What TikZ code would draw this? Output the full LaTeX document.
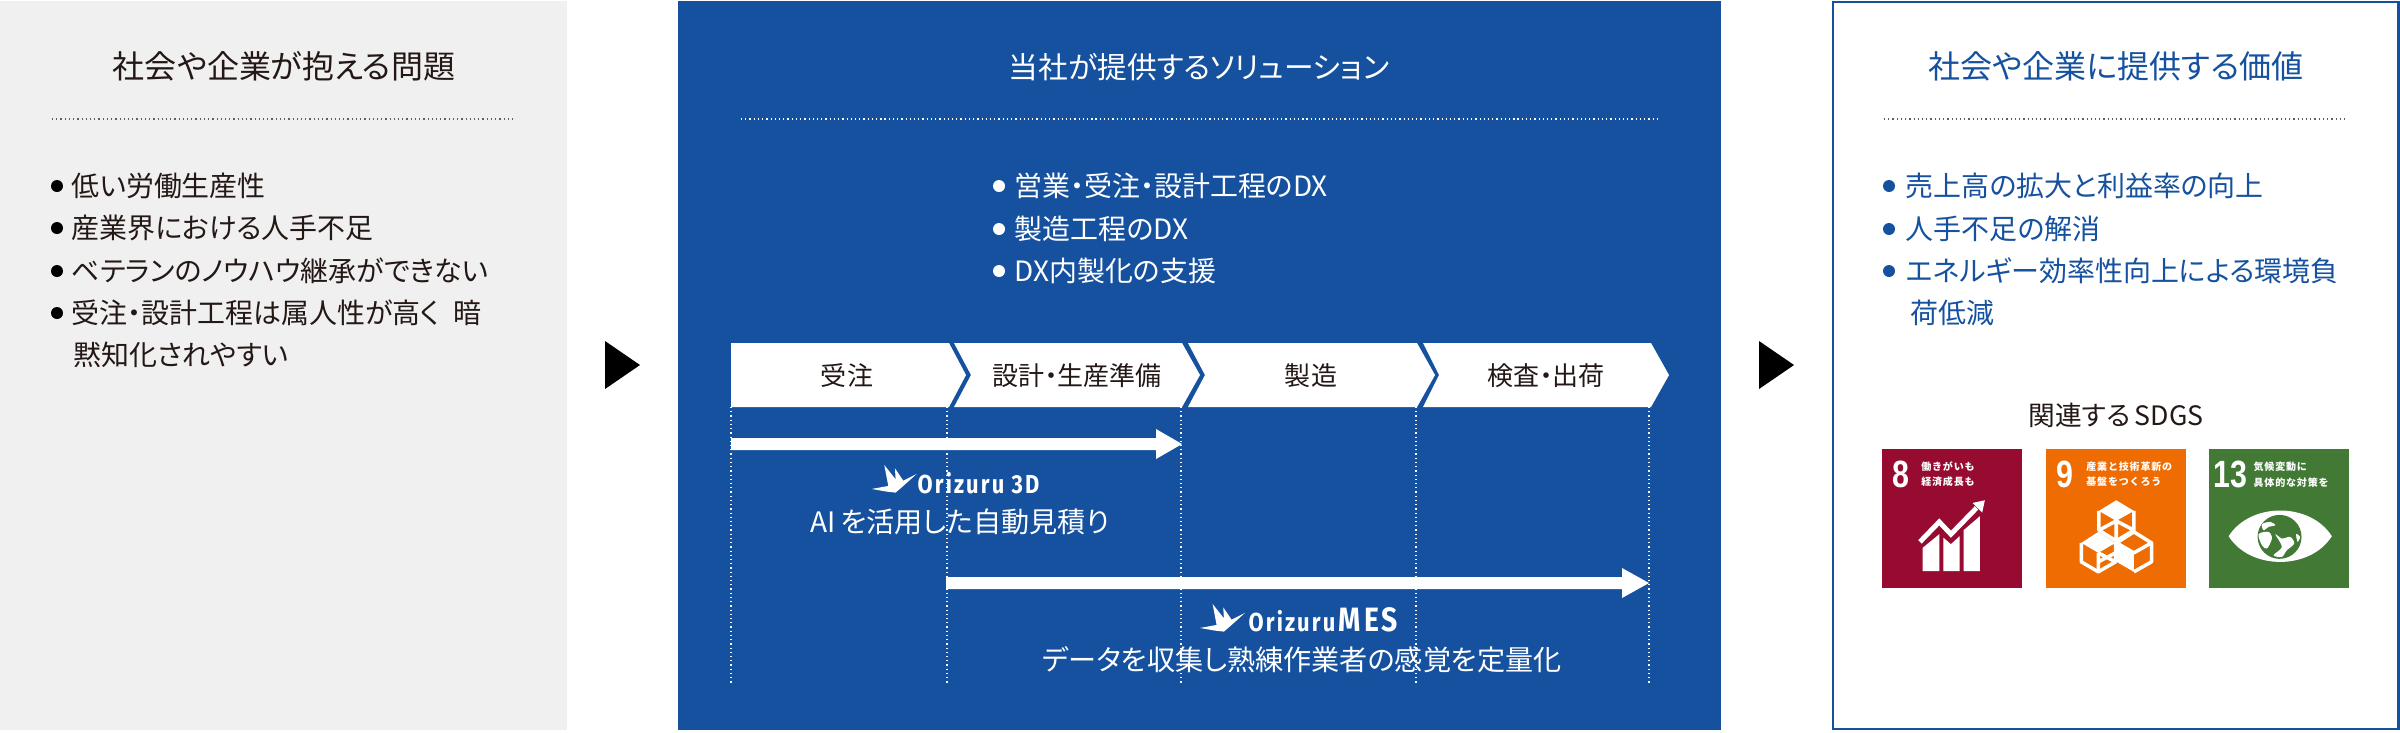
\documentclass[tikz,border=0pt]{standalone}
\usepackage{fontspec}
\setmainfont[RawFeature=+palt]{Noto Sans CJK JP}
\newfontfamily\sdgfont[LetterSpace=8]{Noto Sans CJK JP}
\newfontfamily\numfont{Liberation Sans}
\newfontfamily\logofont[LetterSpace=10]{Fira Sans}
\definecolor{panelgray}{HTML}{F0F0F0}
\definecolor{dxblue}{HTML}{15519F}
\definecolor{inkdark}{HTML}{231815}
\definecolor{sdgred}{HTML}{970B31}
\definecolor{sdgorange}{HTML}{EE6C02}
\definecolor{sdggreen}{HTML}{427935}
\tikzset{
	titletext/.style={inner sep=0pt,text height=8pt,text depth=1.1pt,font=\fontsize{9.1}{11}\selectfont},
	listtext/.style={anchor=west,inner sep=0pt,text height=7pt,text depth=1pt,font=\fontsize{7.95}{10}\selectfont},
	steptext/.style={inner sep=0pt,text height=6.6pt,text depth=.9pt,text=inkdark,font=\fontsize{7.4}{9}\selectfont},
	subtext/.style={inner sep=0pt,text height=7pt,text depth=1pt,text=white,font=\fontsize{8}{10}\selectfont},
	logotext/.style={anchor=base west,inner sep=0pt,text=white,xscale=.84,transform shape,font=\fontsize{7.4}{9}\selectfont\logofont\bfseries},
	sdgtext/.style={anchor=west,align=left,inner sep=0pt,text=white,font=\fontsize{2.85}{4.27}\selectfont\sdgfont\bfseries},
	sdgnum/.style={inner sep=0pt,text=white,xscale=.8,transform shape,font=\fontsize{10.8}{11}\selectfont\numfont\bfseries},
	rule/.style={line width=.35pt,dash pattern=on .35pt off .85pt},
	crane/.pic={
		\fill[white] (73,45)--(107,88)--(105,55)--(130,92)--(170,72)--(130,108)--(107,128)--(80,125)--(35,117)--(85,108)--cycle;
	}
}
\begin{document}
\begin{tikzpicture}[x=0.01cm,y=-0.01cm]
	\useasboundingbox (0,0) rectangle (2400,732);

	% panels
	\fill[panelgray] (0,1) rectangle (567,730);
	\fill[dxblue] (678,1) rectangle (1721,730);
	\draw[dxblue,line width=.8pt] (1833,2) rectangle (2398.5,729);

	% arrows between the panels
	\fill[black] (605,341)--(640,365)--(605,389)--cycle;
	\fill[black] (1759,341)--(1794,365)--(1759,389)--cycle;

	% titles
	\node[titletext,text=inkdark] (problemtitle) at (284,66) {社会や企業が抱える問題};
	\node[titletext,text=white,font=\fontsize{8.45}{11}\selectfont] (solutiontitle) at (1199,66) {当社が提供するソリューション};
	\node[titletext,text=dxblue] (valuetitle) at (2116,66) {社会や企業に提供する価値};
	\draw[rule,inkdark!70] (52,119) -- (515,119);
	\draw[rule,white] (741,119) -- (1659,119);
	\draw[rule,inkdark!70] (1884,119) -- (2347,119);

	% left list
	\foreach \y in {186,228,271,313} \fill[black] (57,\y) circle (6);
	\begin{scope}[listtext/.append style={text=inkdark}]
		\node[listtext] (problema) at (71,186) {低い労働生産性};
		\node[listtext] (problemb) at (71,228) {産業界における人手不足};
		\node[listtext] (problemc) at (71,271) {ベテランのノウハウ継承ができない};
		\node[listtext] (problemd) at (71,313) {受注・設計工程は属人性が高く\hspace{.5em}暗};
		\node[listtext] (probleme) at (73,355) {黙知化されやすい};
	\end{scope}

	% middle list
	\foreach \y in {186,229,271} \fill[white] (999,\y) circle (6);
	\begin{scope}[listtext/.append style={text=white}]
		\node[listtext] (solutiona) at (1014,186) {営業・受注・設計工程のDX};
		\node[listtext] (solutionb) at (1014,229) {製造工程のDX};
		\node[listtext] (solutionc) at (1014,271) {DX内製化の支援};
	\end{scope}

	% process steps
	\foreach \x in {731,947,1181,1416,1649}
		\draw[rule,white] (\x,407) -- (\x,685);
	\foreach \l/\n/\r/\t/\cx/\name/\txt in {
		731/731/949/966/847/juchu/受注,
		954/971/1182/1200/1077/sekkei/設計・生産準備,
		1188/1205/1417/1435/1311/seizo/製造,
		1423/1439/1651/1669/1546/kensa/検査・出荷}{
		\fill[white] (\l,343)--(\r,343)--(\t,375)--(\r,407)--(\l,407)--(\n,375)--cycle;
		\node[steptext] (\name) at (\cx,375) {\txt};
	}

	% span arrows
	\fill[white] (731,438)--(1156,438)--(1156,429)--(1182,444)--(1156,459)--(1156,450)--(731,450)--cycle;
	\fill[white] (946,577)--(1622,577)--(1622,568)--(1649,583)--(1622,598)--(1622,589)--(946,589)--cycle;

	% products
	\begin{scope}[shift={(860,450)},x=0.00333cm,y=-0.00333cm]
		\pic {crane};
	\end{scope}
	\node[logotext] (logothreed) at (917,493) {Orizuru\,\,3D};
	\node[subtext] (threedtext) at (960,522) {AI\,を活用した自動見積り};
	\begin{scope}[shift={(1188.3,589)},x=0.00333cm,y=-0.00333cm]
		\pic {crane};
	\end{scope}
	\node[logotext] (logomes) at (1248,631) {Orizuru\,{\fontsize{9.6}{10}\selectfont MES}};
	\node[subtext] (mestext) at (1302,660) {データを収集し熟練作業者の感覚を定量化};

	% right list
	\foreach \y in {186,229,271} \fill[dxblue] (1889,\y) circle (6);
	\begin{scope}[listtext/.append style={text=dxblue}]
		\node[listtext] (valuea) at (1905,186) {売上高の拡大と利益率の向上};
		\node[listtext] (valueb) at (1905,229) {人手不足の解消};
		\node[listtext] (valuec) at (1905,271) {エネルギー効率性向上による環境負};
		\node[listtext] (valued) at (1910,313) {荷低減};
	\end{scope}

	\node[subtext,text=inkdark,font=\fontsize{7.6}{10}\selectfont] (sdglabel) at (2116,415) {関連する\,SDGS};
	\fill[sdgred] (1882,449) rectangle (2022,588);
	\fill[sdgorange] (2046,449) rectangle (2186,588);
	\fill[sdggreen] (2209,449) rectangle (2349,588);

	% goal 8
	\begin{scope}[shift={(1880,447)},x=0.00333cm,y=-0.00333cm]
		\node[sdgnum] (numeight) at (62,83) {8};
		\node[sdgtext] (eighttext) at (122,83) {働きがいも\\経済成長も};
		\fill[white] (128,373)--(128,303)--(178,262)--(178,373)--cycle;
		\fill[white] (190,373)--(190,272)--(213,292)--(239,268)--(239,373)--cycle;
		\fill[white] (251,373)--(251,250)--(300,208)--(300,373)--cycle;
		\draw[white,line width=1.4pt] (120,285)--(178,225)--(213,262)--(290,183);
		\fill[white] (315,160)--(307,197)--(278,168)--cycle;
	\end{scope}

	% goal 9
	\begin{scope}[shift={(2044,447)},x=0.00333cm,y=-0.00333cm,line width=1pt]
		\node[sdgnum] (numnine) at (62,83) {9};
		\node[sdgtext] (ninetext) at (122,83) {産業と技術革新の\\基盤をつくろう};
		% top cube
		\fill[white] (217,160)--(270,192)--(217,222)--(165,192)--cycle;
		\draw[white,line join=round] (165,192)--(165,250)--(217,282)--(270,250)--(270,192);
		\draw[white] (217,222)--(217,282) (165,250)--(217,222)--(270,250);
		% left cube
		\fill[white] (163,255)--(215,288)--(163,318)--(112,288)--cycle;
		\draw[white,line join=round] (112,288)--(112,345)--(163,375)--(215,345)--(215,288);
		\draw[white] (163,318)--(163,375) (163,318)--(215,345) (163,345)--(215,318);
		% right cube
		\draw[white,line join=round] (270,255)--(323,288)--(270,318)--(218,288)--cycle;
		\fill[white] (218,288)--(270,318)--(270,375)--(218,345)--cycle;
		\draw[white,line join=round] (323,288)--(323,345)--(270,375);
	\end{scope}

	% goal 13
	\begin{scope}[shift={(2207,447)},x=0.00333cm,y=-0.00333cm]
		\node[sdgnum] (numthirteen) at (70,83) {13};
		\node[sdgtext] (thirteentext) at (138,83) {気候変動に\\[.45pt]具体的な対策を};
		\fill[white] (65,268) .. controls (130,165) and (310,165) .. (375,268) .. controls (310,371) and (130,371) .. (65,268)--cycle;
		\fill[sdggreen] (218,270) circle (66);
		\fill[white] plot[smooth cycle] coordinates {(165,232) (190,225) (205,235) (185,240) (170,250)};
		\fill[white] plot[smooth cycle] coordinates {(155,262) (185,255) (195,275) (180,305) (165,295)};
		\fill[white] plot[smooth cycle] coordinates {(205,262) (225,275) (250,270) (262,290) (240,310) (225,330) (200,325) (225,300)};
		\fill[white] plot[smooth cycle] coordinates {(268,262) (280,270) (272,285)};
	\end{scope}
\end{tikzpicture}
\end{document}
